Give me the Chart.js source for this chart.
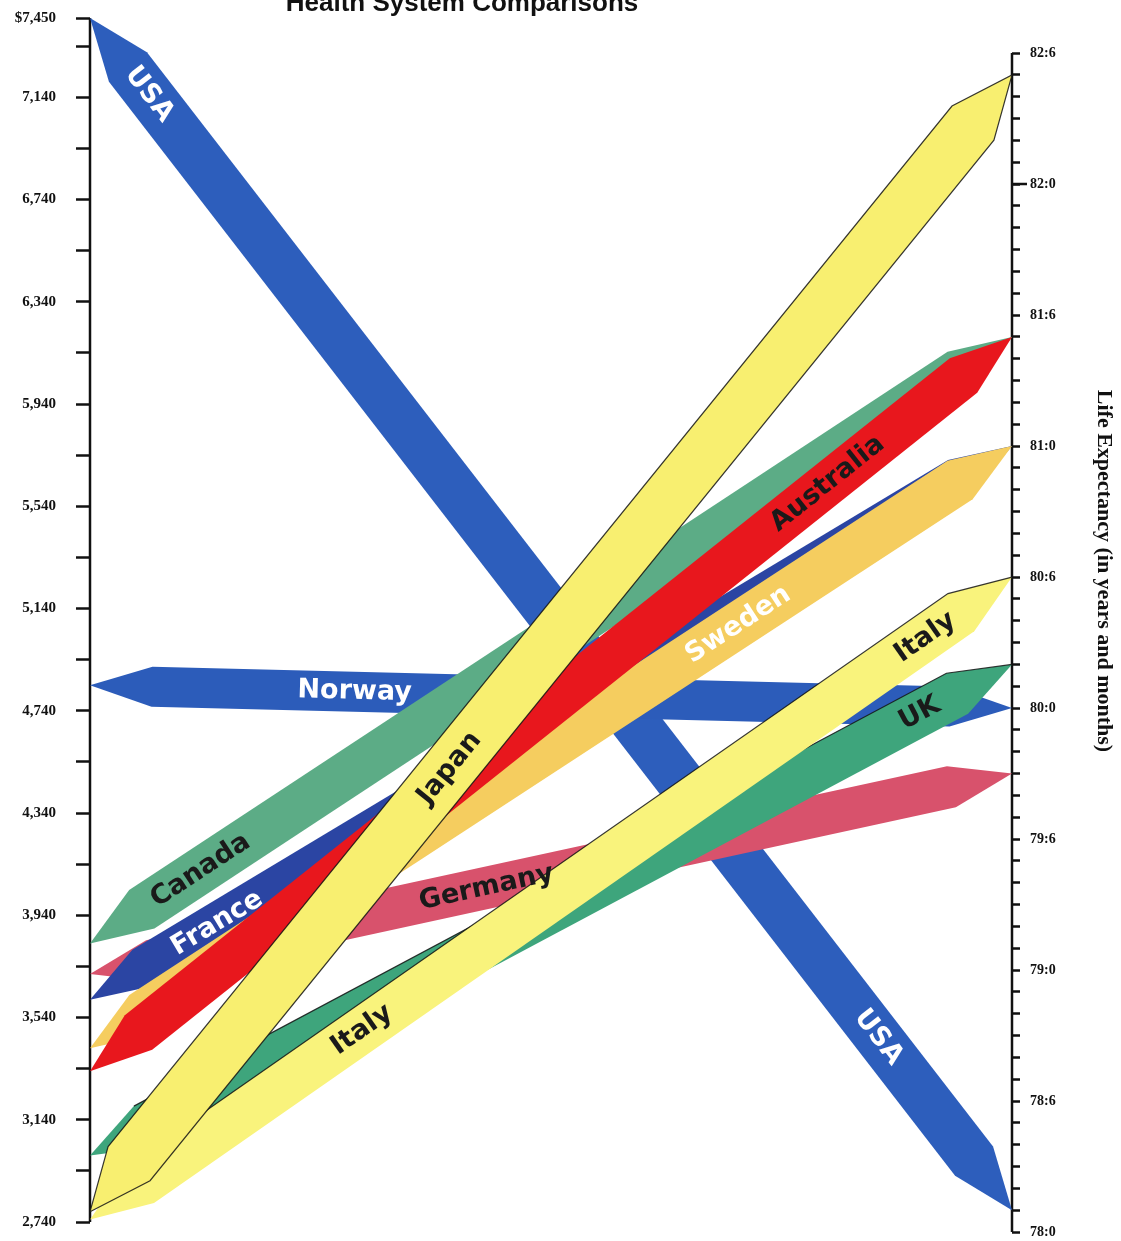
<!DOCTYPE html>
<html>
<head>
<meta charset="utf-8">
<title>Health System Comparisons</title>
<script src="https://cdn.jsdelivr.net/npm/chart.js@4.4.1/dist/chart.umd.min.js"></script>
<style>
  html, body { margin: 0; padding: 0; background: #fff; }
  canvas { display: block; }
</style>
</head>
<body>
<canvas id="healthChart" width="1121" height="1241"></canvas>
<script>
// countries, listed in the order the ribbons are stacked (bottom first)
var countries = ['USA', 'Norway', 'Canada', 'Germany', 'France', 'Sweden', 'Australia', 'UK', 'Italy', 'Japan'];
// health spending per person in US dollars (left axis)
var spending = [7450, 4840, 3830, 3710, 3610, 3420, 3330, 3000, 2750, 2780];
// life expectancy as years:months (right axis)
var lifeExpectancy = ['78:1', '80:0', '81:5', '79:9', '81:0', '81:0', '81:5', '80:2', '80:6', '82:5'];
// labelled ticks
var spendingTicks = [2740, 3140, 3540, 3940, 4340, 4740, 5140, 5540, 5940, 6340, 6740, 7140, 7450];
var lifeTicks = ['78:0', '78:6', '79:0', '79:6', '80:0', '80:6', '81:0', '81:6', '82:0', '82:6'];

// looks
var ribbonColors = ['#2d5ebc', '#2c5cba', '#5cac86', '#d8526c', '#2b45a3', '#f5cd5f', '#e8171d', '#3ea57c', '#f9f37c', '#f8ef70'];
var ribbonHalfWidth = [24, 20, 23, 21, 21, 23, 22, 23, 23, 27];
var ribbonEdge = ['none', 'none', 'none', 'none', 'none', 'none', 'none', 'lower', 'lower', 'all'];
var ribbonLabels = [
  { country: 'USA', at: 0.064, color: '#ffffff' },
  { country: 'USA', at: 0.855, color: '#ffffff' },
  { country: 'Norway', at: 0.287, color: '#ffffff' },
  { country: 'Canada', at: 0.12, color: '#1a1a1a' },
  { country: 'France', at: 0.138, color: '#ffffff' },
  { country: 'Germany', at: 0.43, color: '#1a1a1a' },
  { country: 'Sweden', at: 0.703, color: '#ffffff' },
  { country: 'Australia', at: 0.80, color: '#1a1a1a' },
  { country: 'UK', at: 0.90, color: '#1a1a1a' },
  { country: 'Italy', at: 0.295, color: '#1a1a1a' },
  { country: 'Italy', at: 0.906, color: '#1a1a1a' },
  { country: 'Japan', at: 0.39, color: '#1a1a1a' }
];

function toYears(s) {
  var p = s.split(':');
  return Number(p[0]) + Number(p[1]) / 12;
}
function toYearMonth(v) {
  var m = Math.round((v - 78) * 12);
  return (78 + Math.floor(m / 12)) + ':' + (m % 12);
}

// minor ticks: every $200 on the left, every month on the right
var leftTickValues = [];
for (var i = 0; i < spendingTicks.length - 1; i++) {
  leftTickValues.push(spendingTicks[i]);
  if (spendingTicks[i] + 200 < spendingTicks[spendingTicks.length - 1]) leftTickValues.push(spendingTicks[i] + 200);
}
leftTickValues.push(spendingTicks[spendingTicks.length - 1]);
var lifeLow = toYears(lifeTicks[0]), lifeHigh = toYears(lifeTicks[lifeTicks.length - 1]);
var rightTickValues = [];
for (var m = 0; lifeLow + m / 12 <= lifeHigh + 1e-6; m++) rightTickValues.push(lifeLow + m / 12);

function ribbonPath(ax, ay, bx, by, hw, taper) {
  var dx = bx - ax, dy = by - ay, len = Math.hypot(dx, dy);
  var ux = dx / len, uy = dy / len, nx = -uy, ny = ux;
  var t = Math.min(taper, len / 3);
  return [
    [ax, ay],
    [ax + ux * t + nx * hw, ay + uy * t + ny * hw],
    [bx - ux * t + nx * hw, by - uy * t + ny * hw],
    [bx, by],
    [bx - ux * t - nx * hw, by - uy * t - ny * hw],
    [ax + ux * t - nx * hw, ay + uy * t - ny * hw]
  ];
}

var ribbonPlugin = {
  id: 'ribbons',
  beforeDatasetsDraw: function (chart) {
    var ctx = chart.ctx;
    var y = chart.scales.y, y2 = chart.scales.y2, area = chart.chartArea;
    // axis spines
    ctx.save();
    ctx.strokeStyle = '#111';
    ctx.lineWidth = 2.5;
    ctx.beginPath();
    ctx.moveTo(area.left, y.getPixelForValue(spendingTicks[spendingTicks.length - 1]));
    ctx.lineTo(area.left, y.getPixelForValue(spendingTicks[0]));
    ctx.moveTo(area.right, y2.getPixelForValue(lifeHigh));
    ctx.lineTo(area.right, y2.getPixelForValue(lifeLow));
    // longer tick at 82:0
    ctx.moveTo(area.right, y2.getPixelForValue(82));
    ctx.lineTo(area.right + 15, y2.getPixelForValue(82));
    ctx.stroke();
    ctx.restore();

    var left = chart.getDatasetMeta(0).data, right = chart.getDatasetMeta(1).data;
    countries.forEach(function (c, i) {
      var pts = ribbonPath(left[i].x, left[i].y, right[i].x, right[i].y, ribbonHalfWidth[i], 62);
      ctx.save();
      ctx.beginPath();
      pts.forEach(function (p, k) { if (k === 0) ctx.moveTo(p[0], p[1]); else ctx.lineTo(p[0], p[1]); });
      ctx.closePath();
      ctx.fillStyle = ribbonColors[i];
      ctx.fill();
      ctx.strokeStyle = 'rgba(20,20,20,0.85)';
      ctx.lineWidth = 1.2;
      if (ribbonEdge[i] === 'all') {
        ctx.stroke();
      } else if (ribbonEdge[i] === 'lower') {
        ctx.beginPath();
        ctx.moveTo(pts[3][0], pts[3][1]);
        ctx.lineTo(pts[4][0], pts[4][1]);
        ctx.lineTo(pts[5][0], pts[5][1]);
        ctx.stroke();
      }
      ctx.restore();
    });

    ribbonLabels.forEach(function (lb) {
      var i = countries.indexOf(lb.country);
      var ax = left[i].x, ay = left[i].y, bx = right[i].x, by = right[i].y;
      ctx.save();
      ctx.translate(ax + (bx - ax) * lb.at, ay + (by - ay) * lb.at);
      ctx.rotate(Math.atan2(by - ay, bx - ax));
      ctx.font = 'bold 27px "DejaVu Sans"';
      ctx.fillStyle = lb.color;
      ctx.textAlign = 'center';
      ctx.textBaseline = 'middle';
      ctx.fillText(lb.country, 0, 0);
      ctx.restore();
    });
  },
  afterDraw: function (chart) {
    var ctx = chart.ctx;
    ctx.save();
    ctx.fillStyle = '#111';
    ctx.font = 'bold 26px "Liberation Sans"';
    ctx.textAlign = 'center';
    ctx.textBaseline = 'alphabetic';
    ctx.fillText('Health System Comparisons', 462, 11);
    ctx.translate(chart.width - 17, 571);
    ctx.rotate(Math.PI / 2);
    ctx.font = 'bold 22px "Liberation Serif"';
    ctx.textBaseline = 'middle';
    ctx.fillText('Life Expectancy (in years and months)', 0, 0);
    ctx.restore();
  }
};

function fixVertical(width) {
  return function (s) {
    s.width = width;
    s.paddingTop = 0;
    s.paddingBottom = 0;
  };
}

var ctx = document.getElementById('healthChart');
var healthChart = new Chart(ctx, {
  type: 'scatter',
  data: {
    datasets: [{
      label: 'Health spending per person',
      data: spending.map(function (v) { return { x: 0, y: v }; }),
      yAxisID: 'y',
      pointRadius: 0
    }, {
      label: 'Life expectancy',
      data: lifeExpectancy.map(function (v) { return { x: 1, y: toYears(v) }; }),
      yAxisID: 'y2',
      pointRadius: 0
    }]
  },
  options: {
    responsive: false,
    animation: false,
    layout: { padding: { top: 18, bottom: 9, left: 0, right: 0 } },
    scales: {
      x: { type: 'linear', min: 0, max: 1, display: false },
      y: {
        position: 'left',
        min: 2701,
        max: 7450,
        afterFit: fixVertical(90),
        afterBuildTicks: function (s) { s.ticks = leftTickValues.map(function (v) { return { value: v }; }); },
        ticks: {
          autoSkip: false,
          padding: 20,
          color: '#111',
          font: { family: 'Liberation Serif', weight: 'bold', size: 15 },
          callback: function (v) {
            if (spendingTicks.indexOf(v) < 0) return '';
            var s = v.toLocaleString('en-US');
            return v === spendingTicks[spendingTicks.length - 1] ? '$' + s : s;
          }
        },
        grid: { drawOnChartArea: false, drawTicks: true, tickLength: 14, tickWidth: 2.5, tickColor: '#111' },
        border: { display: false }
      },
      y2: {
        position: 'right',
        min: 78,
        max: 82.634,
        afterFit: fixVertical(109),
        afterBuildTicks: function (s) { s.ticks = rightTickValues.map(function (v) { return { value: v }; }); },
        ticks: {
          autoSkip: false,
          padding: 10,
          color: '#111',
          font: { family: 'Liberation Serif', weight: 'bold', size: 14 },
          callback: function (v) {
            var s = toYearMonth(v);
            return lifeTicks.indexOf(s) >= 0 ? s : '';
          }
        },
        grid: { drawOnChartArea: false, drawTicks: true, tickLength: 8, tickWidth: 2.5, tickColor: '#111' },
        border: { display: false }
      }
    },
    plugins: {
      legend: { display: false },
      tooltip: { enabled: false }
    }
  },
  plugins: [ribbonPlugin]
});
</script>
</body>
</html>
